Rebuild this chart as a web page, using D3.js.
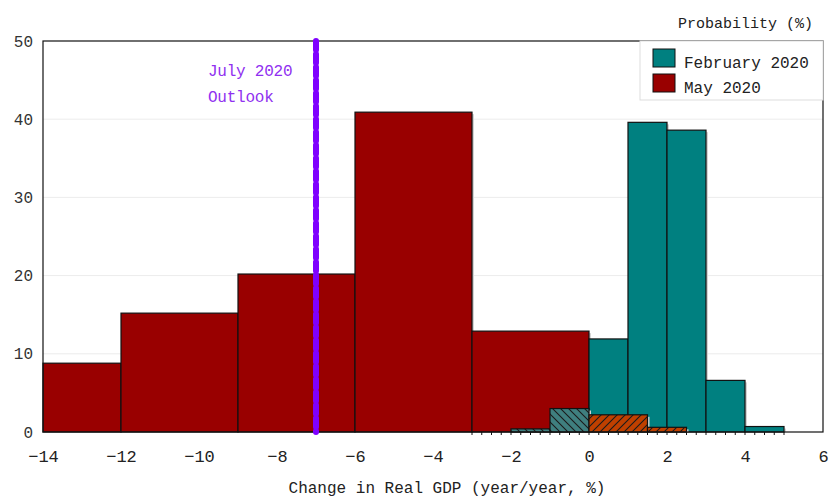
<!DOCTYPE html>
<html>
<head>
<meta charset="utf-8">
<script src="https://cdn.jsdelivr.net/npm/d3@7"></script>
<style>
  body { margin: 0; background: #fff; }
  text { font-family: "Liberation Mono", "DejaVu Sans Mono", monospace; }
</style>
</head>
<body>
<div id="chart"></div>
<script>
"use strict"

/* bin edges and probabilities (%) */
let mayEdges = [-14, -12, -9, -6, -3, 0, 1.5, 2.5];
let mayValues = [8.8, 15.2, 20.2, 40.9, 12.9, 2.2, 0.6];
let febEdges = [-2, -1, 0, 1, 2, 3, 4, 5];
let febValues = [0.4, 3.0, 11.9, 39.6, 38.6, 6.6, 0.7];

let xTicks = [-14, -12, -10, -8, -6, -4, -2, 0, 2, 4, 6];
let yTicks = [0, 10, 20, 30, 40, 50];
let minorTicks = d3.range(-3, 5.001, 0.25);
let outlookX = -7;
let outlookLabel = ["July 2020", "Outlook"];
let legendLabels = ["February 2020", "May 2020"];

let width = 830, height = 500;
let margin = {left: 43, right: 7, top: 41, bottom: 68};

let svg = d3.select("#chart")
  .append("svg")
  .attr("width", width)
  .attr("height", height);

let x = d3.scaleLinear().domain([-14, 6]).range([margin.left, width - margin.right]);
let y = d3.scaleLinear().domain([0, 50]).range([height - margin.bottom, margin.top]);

/* hatch patterns */
let defs = svg.append("defs");
function hatch(id, fill, dir) {
  let p = defs.append("pattern")
    .attr("id", id)
    .attr("patternUnits", "userSpaceOnUse")
    .attr("width", 8).attr("height", 8);
  p.append("rect").attr("width", 8).attr("height", 8).attr("fill", fill);
  let d = dir > 0 ? "M-2,2 L2,-2 M0,8 L8,0 M6,10 L10,6" : "M-2,6 L2,10 M0,0 L8,8 M6,-2 L10,2";
  p.append("path").attr("d", d).attr("stroke", "#1a1a1a").attr("stroke-width", 1.1);
}
hatch("hatchTeal", "#3f7f7f", -1);
hatch("hatchOrange", "#c04000", 1);

/* gridlines */
svg.append("g")
  .selectAll("line")
  .data(yTicks.slice(1, -1))
  .join("line")
  .attr("x1", x(-14)).attr("x2", x(6))
  .attr("y1", d => y(d)).attr("y2", d => y(d))
  .attr("stroke", "#ececec");

function bins(edges, values) {
  return values.map((v, i) => ({x0: edges[i], x1: edges[i + 1], v: v}));
}
let may = bins(mayEdges, mayValues);
let feb = bins(febEdges, febValues);

function drawBars(data, fill) {
  let g = svg.append("g");
  g.selectAll("rect.shadow")
    .data(data)
    .join("rect")
    .attr("x", d => x(d.x0) + 2)
    .attr("y", d => y(d.v) + 2)
    .attr("width", d => x(d.x1) - x(d.x0))
    .attr("height", d => y(0) - y(d.v) - 2)
    .attr("fill", "#d4d4d4");
  g.selectAll("rect.bar")
    .data(data)
    .join("rect")
    .attr("x", d => x(d.x0))
    .attr("y", d => y(d.v))
    .attr("width", d => x(d.x1) - x(d.x0))
    .attr("height", d => y(0) - y(d.v))
    .attr("fill", fill)
    .attr("stroke", "#111")
    .attr("stroke-width", 1.2);
}

/* solid bars first, overlapping bars hatched on top */
drawBars(may.filter(d => d.x1 <= 0), "#990000");
drawBars(feb.filter(d => d.x0 >= 0), "#008080");
drawBars(feb.filter(d => d.x0 < 0), "url(#hatchTeal)");
drawBars(may.filter(d => d.x1 > 0), "url(#hatchOrange)");

/* frame */
svg.append("rect")
  .attr("x", x(-14)).attr("y", y(50))
  .attr("width", x(6) - x(-14)).attr("height", y(0) - y(50))
  .attr("fill", "none")
  .attr("stroke", "#111")
  .attr("stroke-width", 1.2);

/* minor ticks along baseline */
svg.append("g")
  .selectAll("line")
  .data(minorTicks)
  .join("line")
  .attr("x1", d => x(d)).attr("x2", d => x(d))
  .attr("y1", y(0)).attr("y2", y(0) + 3)
  .attr("stroke", "#111");

/* x axis labels */
let xAxis = svg.append("g")
  .attr("transform", `translate(0,${y(0)})`)
  .call(d3.axisBottom(x).tickValues(xTicks).tickSize(0).tickPadding(18)
    .tickFormat(d => d < 0 ? "\u2212" + Math.abs(d) : d));
xAxis.select(".domain").remove();
xAxis.selectAll("text")
  .attr("font-family", "Liberation Mono")
  .attr("font-size", 17)
  .attr("fill", "#222");

/* y axis labels */
let yAxis = svg.append("g")
  .attr("transform", `translate(${x(-14)},0)`)
  .call(d3.axisLeft(y).tickValues(yTicks).tickSize(0).tickPadding(10));
yAxis.select(".domain").remove();
yAxis.selectAll("text")
  .attr("font-family", "DejaVu Sans")
  .attr("font-size", 16)
  .attr("fill", "#333");

/* July 2020 outlook line */
svg.append("line")
  .attr("x1", x(outlookX)).attr("x2", x(outlookX))
  .attr("y1", y(50)).attr("y2", y(0))
  .attr("stroke", "#7f00ff")
  .attr("stroke-width", 6)
  .attr("stroke-linecap", "round")
  .attr("stroke-dasharray", "9,4");

svg.append("g")
  .selectAll("text")
  .data(outlookLabel)
  .join("text")
  .attr("x", 208)
  .attr("y", (d, i) => 76 + i * 26)
  .attr("font-size", 16)
  .attr("fill", "#9030f0")
  .attr("textLength", d => d.length * 9.4)
  .text(d => d);

/* axis titles */
svg.append("text")
  .attr("x", 447).attr("y", 493)
  .attr("text-anchor", "middle")
  .attr("font-size", 16)
  .attr("fill", "#222")
  .text("Change in Real GDP (year/year, %)");

svg.append("text")
  .attr("x", 813).attr("y", 28)
  .attr("text-anchor", "end")
  .attr("font-size", 15)
  .attr("fill", "#222")
  .text("Probability (%)");

/* legend */
let legend = svg.append("g");
legend.append("rect")
  .attr("x", 640).attr("y", 41)
  .attr("width", 183).attr("height", 59)
  .attr("fill", "#fff")
  .attr("stroke", "#ddd");
let legendColors = ["#008080", "#990000"];
legend.selectAll("rect.sw")
  .data(legendLabels)
  .join("rect")
  .attr("class", "sw")
  .attr("x", 653)
  .attr("y", (d, i) => 49 + i * 25)
  .attr("width", 22).attr("height", 18)
  .attr("fill", (d, i) => legendColors[i])
  .attr("stroke", "#111");
legend.selectAll("text")
  .data(legendLabels)
  .join("text")
  .attr("x", 684)
  .attr("y", (d, i) => 68 + i * 25)
  .attr("font-size", 16)
  .attr("fill", "#222")
  .text(d => d);
</script>
</body>
</html>
